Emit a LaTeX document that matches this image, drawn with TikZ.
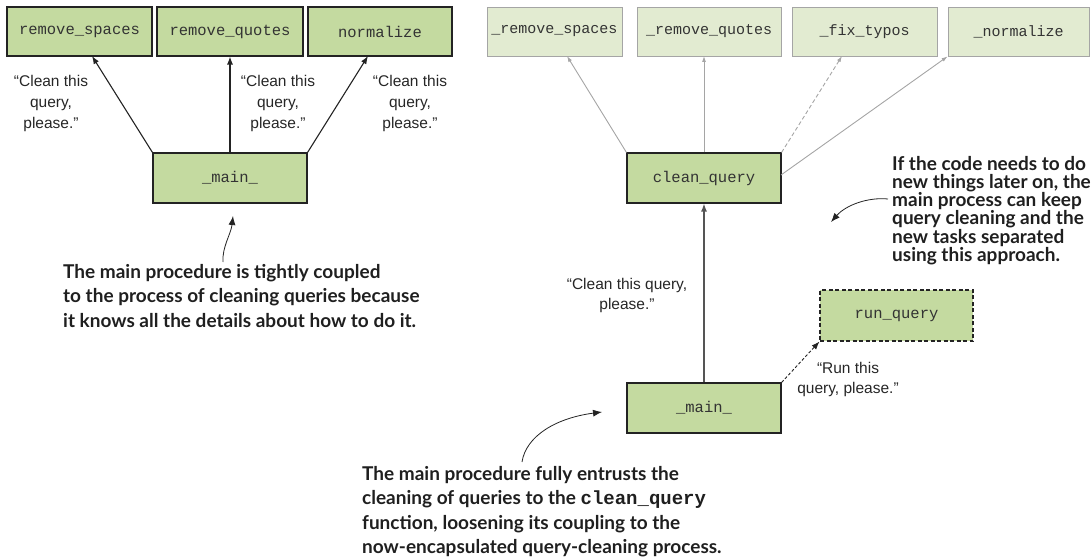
\documentclass[tikz,border=0pt]{standalone}
\usepackage{fontspec}
\setmainfont{Liberation Sans}
\newfontfamily\annfont{Lato}
\newfontfamily\codefont{Liberation Mono}
\usetikzlibrary{arrows.meta}
\definecolor{boxgreen}{RGB}{196,218,160}
\definecolor{lightgreen}{RGB}{226,235,209}
\definecolor{darkline}{RGB}{35,35,35}
\definecolor{midline}{RGB}{85,85,85}
\definecolor{grayline}{RGB}{165,165,165}
\begin{document}
\begin{tikzpicture}[x=1pt,y=-1pt,
  codebox/.style={draw=darkline, line width=1.1pt, fill=boxgreen, minimum height=49pt, inner sep=0pt,
    font=\codefont\fontsize{15.5}{18}\selectfont, text=black!80},
  lightbox/.style={draw=grayline, line width=0.9pt, fill=lightgreen, minimum height=49pt, inner sep=0pt,
    font=\codefont\fontsize{15}{18}\selectfont, text=black!80},
  quote/.style={font=\fontsize{15.5}{21}\selectfont, align=center, text=black!85, inner sep=0pt},
  note/.style={font=\annfont\bfseries\fontsize{19}{24.5}\selectfont, align=left, text=black!88, inner sep=0pt, anchor=north west},
  darrow/.style={draw=darkline, line width=1.1pt, -{Latex[length=8pt,width=6pt]}},
  marrow/.style={draw=midline, line width=1.3pt, -{Latex[length=8pt,width=6pt]}},
  garrow/.style={draw=grayline, line width=0.9pt, -{Latex[length=6pt,width=4pt]}},
  callout/.style={draw=darkline, line width=0.8pt, -{Latex[length=9pt,width=7pt]}},
]
\useasboundingbox (0,0) rectangle (1091,559);

% ---------- left diagram ----------
\node[codebox, minimum width=145pt] (ls) at (79.5,31.5) {remove\_spaces};
\node[codebox, minimum width=146pt] (lq) at (230,31.5) {remove\_quotes};
\node[codebox, minimum width=144pt] (ln) at (380,31.5) {normalize};
\node[codebox, minimum width=154pt, minimum height=50pt] (lm) at (230,178) {\_main\_};

\coordinate (lsb) at (92,56);
\coordinate (lnb) at (368,56);
\draw[darrow] (lm.north west) -- (lsb);
\draw[darrow] (lm.north) -- (lq.south);
\draw[darrow] (lm.north east) -- (lnb);

\node[quote] (q1) at (51,103.5) {“Clean this\\query,\\please.”};
\node[quote] (q2) at (278,103.5) {“Clean this\\query,\\please.”};
\node[quote] (q3) at (410,103.5) {“Clean this\\query,\\please.”};

\node[note] (n1) at (63,264) {The main procedure is tightly coupled\\to the process of cleaning queries because\\it knows all the details about how to do it.};
\coordinate (c1s) at (223,262);
\coordinate (c1e) at (233,216);
\draw[callout] (c1s) .. controls (222,247) and (231,234) .. (c1e);

% ---------- right diagram ----------
\node[lightbox, minimum width=135pt] (rs) at (554.5,31.5) {\_remove\_spaces};
\node[lightbox, minimum width=144pt] (rq) at (709,31.5) {\_remove\_quotes};
\node[lightbox, minimum width=145pt] (rf) at (864.5,31.5) {\_fix\_typos};
\node[lightbox, minimum width=141pt] (rn) at (1018.5,31.5) {\_normalize};

\node[codebox, minimum width=154pt, minimum height=50pt] (cq) at (704,178) {clean\_query};
\node[codebox, minimum width=154pt, minimum height=50pt] (rm) at (704,408) {\_main\_};
\node[codebox, minimum width=153pt, minimum height=51pt, dash pattern=on 4pt off 2.5pt] (rr) at (896.5,315.5) {run\_query};

\coordinate (rsb) at (567,56);
\coordinate (rqb) at (704,56);
\coordinate (rfb) at (842,56);
\coordinate (cqr) at (781,175);
\draw[garrow] (cq.north west) -- (rsb);
\draw[garrow] (cq.north) -- (rqb);
\draw[garrow, dash pattern=on 4pt off 2.5pt] (cq.north east) -- (rfb);
\draw[garrow] (cqr) -- (rn.south west);

\draw[marrow] (rm.north) -- (cq.south);
\draw[darrow, line width=0.9pt, dash pattern=on 3pt off 2pt] (rm.north east) -- (rr.south west);

\node[quote, font=\fontsize{15.5}{20}\selectfont] (q4) at (627,295) {“Clean this query,\\please.”};
\node[quote, font=\fontsize{15.5}{20}\selectfont] (q5) at (848,379.5) {“Run this\\query, please.”};

\node[note, font=\annfont\bfseries\fontsize{19}{18.2}\selectfont] (n2) at (892,156) {If the code needs to do\\new things later on, the\\main process can keep\\query cleaning and the\\new tasks separated\\using this approach.};
\coordinate (c2s) at (888,199);
\coordinate (c2e) at (831,222);
\draw[callout] (c2s) .. controls (868,197) and (846,205) .. (c2e);

\node[note] (n3) at (362,466) {The main procedure fully entrusts the\\cleaning of queries to the {\codefont\bfseries clean\_query}\\function, loosening its coupling to the\\now-encapsulated query-cleaning process.};
\coordinate (c3s) at (522,462);
\coordinate (c3e) at (602,412);
\draw[callout] (c3s) .. controls (526,436) and (556,418) .. (c3e);
\end{tikzpicture}
\end{document}
